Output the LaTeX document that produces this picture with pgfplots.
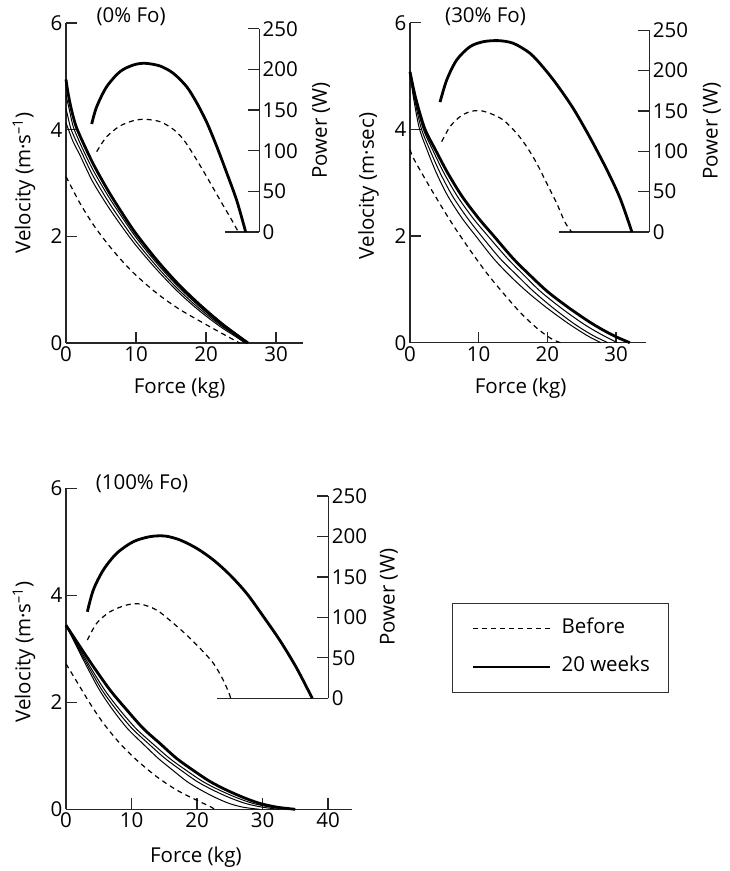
\documentclass[border=0pt]{standalone}
\usepackage{fontspec}
\setmainfont{Open Sans}
\usepackage{pgfplots}
\pgfplotsset{compat=1.18}
\newcommand\fnt{\fontsize{20.5}{24}\selectfont}
\pgfplotsset{
  base/.style={clip=false, enlargelimits=false, anchor=south west,
    tick align=inside, major tick length=11pt,
    axis line style={-, line width=1.3pt, black!85},
    tick style={line width=1.3pt, black!85},
    tick label style={font=\fnt},
    /pgf/number format/assume math mode=true},
  mainax/.style={base, axis x line*=bottom, axis y line*=left,
    ymin=0, ymax=6, ytick={0,2,4,6}, xmin=0},
  powax/.style={base, axis x line*=bottom, axis y line*=right, xtick=\empty,
    ymin=0, ymax=250, ytick={0,50,100,150,200,250}},
  thk/.style={line width=2.8pt, black, smooth},
  thn/.style={line width=1.0pt, black, smooth},
  dsh/.style={line width=1.2pt, black, dash pattern=on 5pt off 4pt, smooth},
}
\begin{document}
\begin{tikzpicture}
\useasboundingbox (0,0) rectangle (729pt,871pt);

% ---------------- Panel 1 (0% Fo) ----------------
\begin{axis}[mainax, at={(66pt,528pt)}, x=7pt, y=53.33pt, xmax=33.9,
  xtick={0,10,20,30},
  xlabel={Force (kg)}, ylabel={Velocity (m·s\textsuperscript{–1})},
  every axis x label/.style={at={(axis description cs:0.479,0)}, anchor=center, yshift=-45pt, font=\fnt},
  every axis y label/.style={at={(axis description cs:-0.177,0.5)}, rotate=90, anchor=center, font=\fnt}]
\addplot[dsh] coordinates {(0,3.12)(2,2.62)(4,2.20)(6,1.85)(8,1.54)(10,1.27)(13,0.93)(16,0.65)(19,0.42)(22,0.20)(24.8,0)};
\addplot[thn] coordinates {(0,4.13)(0.3,4.02)(1,3.78)(2,3.52)(3,3.24)(4,2.98)(6,2.56)(8,2.18)(10,1.83)(13,1.37)(16,0.96)(19,0.61)(22,0.31)(24,0.14)(25.6,0)};
\addplot[thn] coordinates {(0,4.4)(0.67,4.03)(1.4,3.8)(2,3.64)(3,3.36)(4,3.10)(6,2.66)(8,2.27)(10,1.905)(13,1.43)(16,1.01)(19,0.65)(22,0.34)(24,0.16)(25.8,0)};
\addplot[thn] coordinates {(0,4.65)(0.5,4.36)(1.05,4.05)(2,3.75)(3,3.47)(4,3.21)(6,2.76)(8,2.36)(10,1.98)(13,1.49)(16,1.06)(19,0.69)(22,0.36)(24,0.17)(25.9,0)};
\addplot[thk] coordinates {(0,4.94)(0.25,4.72)(0.6,4.48)(1.0,4.26)(1.5,4.04)(2.5,3.74)(4,3.33)(6,2.86)(8,2.44)(10,2.05)(13,1.55)(16,1.11)(19,0.73)(22,0.39)(24,0.19)(26,0)};
\node[font=\fnt] at (axis cs:9.3,6.11) {(0\% Fo)};
\end{axis}
\begin{axis}[powax, at={(224.9pt,639pt)}, x=7pt, y=0.813pt, xmin=22.7, xmax=27.6,
  ylabel={Power (W)},
  every axis y label/.style={at={(axis description cs:1,0.5)}, xshift=62pt, rotate=90, anchor=center, font=\fnt}]
\addplot[thk] coordinates {(3.67,132.8)(4.38,154)(5.81,178.7)(7.71,197.2)(9.62,205.4)(11.29,207.5)(13.43,204.2)(15.33,195.2)(17.24,178.7)(18.67,159)(20.1,135)(21.5,106)(22.95,73)(24.4,38.5)(25.67,0)};
\addplot[dsh] coordinates {(4.38,98.8)(5.81,117.2)(7.71,130.4)(9.62,136.9)(11.29,138.6)(13.43,135.7)(15.33,126.3)(16.76,114)(18.19,95.5)(20.1,68)(22.0,39.4)(23.67,14.8)(24.62,0)};
\end{axis}

% ---------------- Panel 2 (30% Fo) ----------------
\begin{axis}[mainax, at={(410pt,528.3pt)}, x=6.87pt, y=53.33pt, xmax=34.35,
  xtick={0,10,20,30},
  xlabel={Force (kg)}, ylabel={Velocity (m·sec)},
  every axis x label/.style={at={(axis description cs:0.469,0)}, anchor=center, yshift=-45pt, font=\fnt},
  every axis y label/.style={at={(axis description cs:-0.176,0.49)}, rotate=90, anchor=center, font=\fnt}]
\addplot[dsh] coordinates {(0,3.62)(0.58,3.44)(2.52,3.0)(4.46,2.58)(6.4,2.18)(8.83,1.72)(11.26,1.29)(13.7,0.91)(16.1,0.56)(18.5,0.27)(20.5,0.08)(21.9,0)};
\addplot[thn] coordinates {(0,5.05)(0.5,4.6)(1.36,4.02)(2.5,3.61)(3.85,3.18)(5.55,2.74)(7.6,2.33)(9.58,2.0)(12.15,1.58)(14.5,1.26)(17.0,0.96)(19.8,0.665)(22.6,0.40)(24.4,0.245)(26.1,0.11)(27.8,0)};
\addplot[thn] coordinates {(0,5.06)(0.61,4.6)(1.64,4.02)(2.91,3.61)(4.4,3.18)(6.23,2.74)(8.4,2.33)(10.4,2.0)(13.1,1.58)(15.6,1.26)(18.0,0.96)(20.7,0.665)(23.4,0.40)(25.2,0.245)(27.0,0.11)(28.8,0)};
\addplot[thn] coordinates {(0,5.07)(0.7,4.6)(1.89,4.02)(3.32,3.61)(4.95,3.18)(6.92,2.74)(9.2,2.33)(11.35,2.0)(14.18,1.58)(16.63,1.26)(19.0,0.96)(21.85,0.665)(24.7,0.40)(26.6,0.245)(28.5,0.11)(30.2,0)};
\addplot[thk] coordinates {(0,5.08)(0.8,4.6)(2.13,4.02)(3.73,3.61)(5.5,3.18)(7.6,2.74)(10,2.33)(12.2,2.0)(15,1.58)(17.5,1.26)(20,0.96)(23,0.665)(26,0.40)(28,0.245)(30,0.11)(32,0)};
\node[font=\fnt] at (axis cs:11.0,6.11) {(30\% Fo)};
\end{axis}
\begin{axis}[powax, at={(559.1pt,639pt)}, x=6.87pt, y=0.8067pt, xmin=21.7, xmax=34.83,
  ylabel={Power (W)},
  every axis y label/.style={at={(axis description cs:1,0.5)}, xshift=62.7pt, rotate=90, anchor=center, font=\fnt}]
\addplot[thk] coordinates {(4.37,161)(5.34,188.4)(6.79,213.2)(8.73,229.7)(10.67,235.9)(12.86,237.2)(15.04,233.9)(17.47,221.5)(19.4,204)(21.35,183)(23.77,153)(26.2,117)(28.6,78)(30.57,42)(32.3,0)};
\addplot[dsh] coordinates {(4.61,112)(5.82,130.6)(7.28,143)(8.73,149.2)(10.19,150.4)(11.64,147.1)(13.58,138.8)(15.53,122.3)(16.98,105.8)(18.44,85.2)(19.9,60.4)(21.35,35.6)(22.56,12)(23.53,0)};
\end{axis}

% ---------------- Panel 3 (100% Fo) ----------------
\begin{axis}[mainax, at={(66pt,61.7pt)}, x=6.55pt, y=53.5pt, xmax=43.6,
  xtick={0,10,20,30,40},
  xlabel={Force (kg)}, ylabel={Velocity (m·s\textsuperscript{–1})},
  every axis x label/.style={at={(axis description cs:0.455,0)}, anchor=center, yshift=-48pt, font=\fnt},
  every axis y label/.style={at={(axis description cs:-0.147,0.49)}, rotate=90, anchor=center, font=\fnt},
  legend style={at={(1.3526,0.6417)}, anchor=north west, draw=black!80, line width=0.9pt,
    inner xsep=19pt, inner ysep=16.5pt, row sep=21.3pt, column sep=10pt,
    nodes={inner sep=0pt, text height=13pt, text depth=4pt, font=\fnt}},
  legend cell align=left,
  legend image code/.code={\draw[#1] (0pt,0pt) -- (77pt,0pt);}]
\addplot[dsh] coordinates {(0,2.72)(1.63,2.39)(3.66,1.98)(5.7,1.61)(8.24,1.23)(10.79,0.92)(13.84,0.61)(16.9,0.36)(19.95,0.17)(22.2,0.04)(22.6,0)};
\addlegendentry{Before}
\addplot[thk] coordinates {(0,3.44)(2.14,3.04)(4.17,2.67)(6.72,2.23)(9.26,1.86)(11.8,1.51)(14.35,1.23)(16.9,0.95)(19.4,0.73)(21.98,0.52)(24.5,0.36)(27.1,0.22)(29.6,0.11)(32.2,0.04)(35,0)};
\addlegendentry{20 weeks}
\addplot[thn, forget plot] coordinates {(0,3.44)(1.63,3.04)(3.17,2.67)(5.11,2.23)(7.13,1.86)(9.38,1.51)(11.7,1.23)(14.1,0.95)(16.3,0.73)(18.46,0.52)(20.6,0.36)(22.8,0.22)(24.9,0.11)(27.0,0.04)(29.5,0)};
\addplot[thn, forget plot] coordinates {(0,3.44)(1.75,3.04)(3.41,2.67)(5.49,2.23)(7.69,1.86)(10.09,1.51)(12.56,1.23)(15.13,0.95)(17.56,0.73)(20.0,0.52)(22.42,0.36)(24.93,0.22)(27.38,0.11)(29.95,0.04)(32.5,0)};
\addplot[thn, forget plot] coordinates {(0,3.44)(1.88,3.04)(3.66,2.67)(5.9,2.23)(8.2,1.86)(10.68,1.51)(13.2,1.23)(15.84,0.95)(18.33,0.73)(20.88,0.52)(23.4,0.36)(26.0,0.22)(28.56,0.11)(31.23,0.04)(34.0,0)};
\node[font=\fnt] at (axis cs:11.6,6.08) {(100\% Fo)};
\end{axis}
\begin{axis}[powax, at={(216.65pt,172.7pt)}, x=6.55pt, y=0.809pt, xmin=23.0, xmax=40.05,
  ylabel={Power (W)},
  every axis y label/.style={at={(axis description cs:1,0.5)}, xshift=60.7pt, rotate=90, anchor=center, font=\fnt}]
\addplot[thk] coordinates {(3.26,107)(4.17,133.9)(5.7,158.6)(7.74,179.2)(10.28,193.6)(12.82,199.8)(15.11,200.6)(17.4,195.7)(19.95,185.4)(22.5,171)(25.04,152.4)(27.6,129.5)(30.1,101.5)(32.7,71)(35.2,37.5)(37.6,0)};
\addplot[dsh] coordinates {(3.26,72)(4.68,92.7)(6.72,107)(9.26,115.3)(11.3,116.6)(13.84,109.1)(16.39,92.7)(18.42,78.2)(20.46,61.8)(22.5,43.3)(24.0,22.6)(25.0,4)(25.1,0)};
\end{axis}
\end{tikzpicture}
\end{document}
